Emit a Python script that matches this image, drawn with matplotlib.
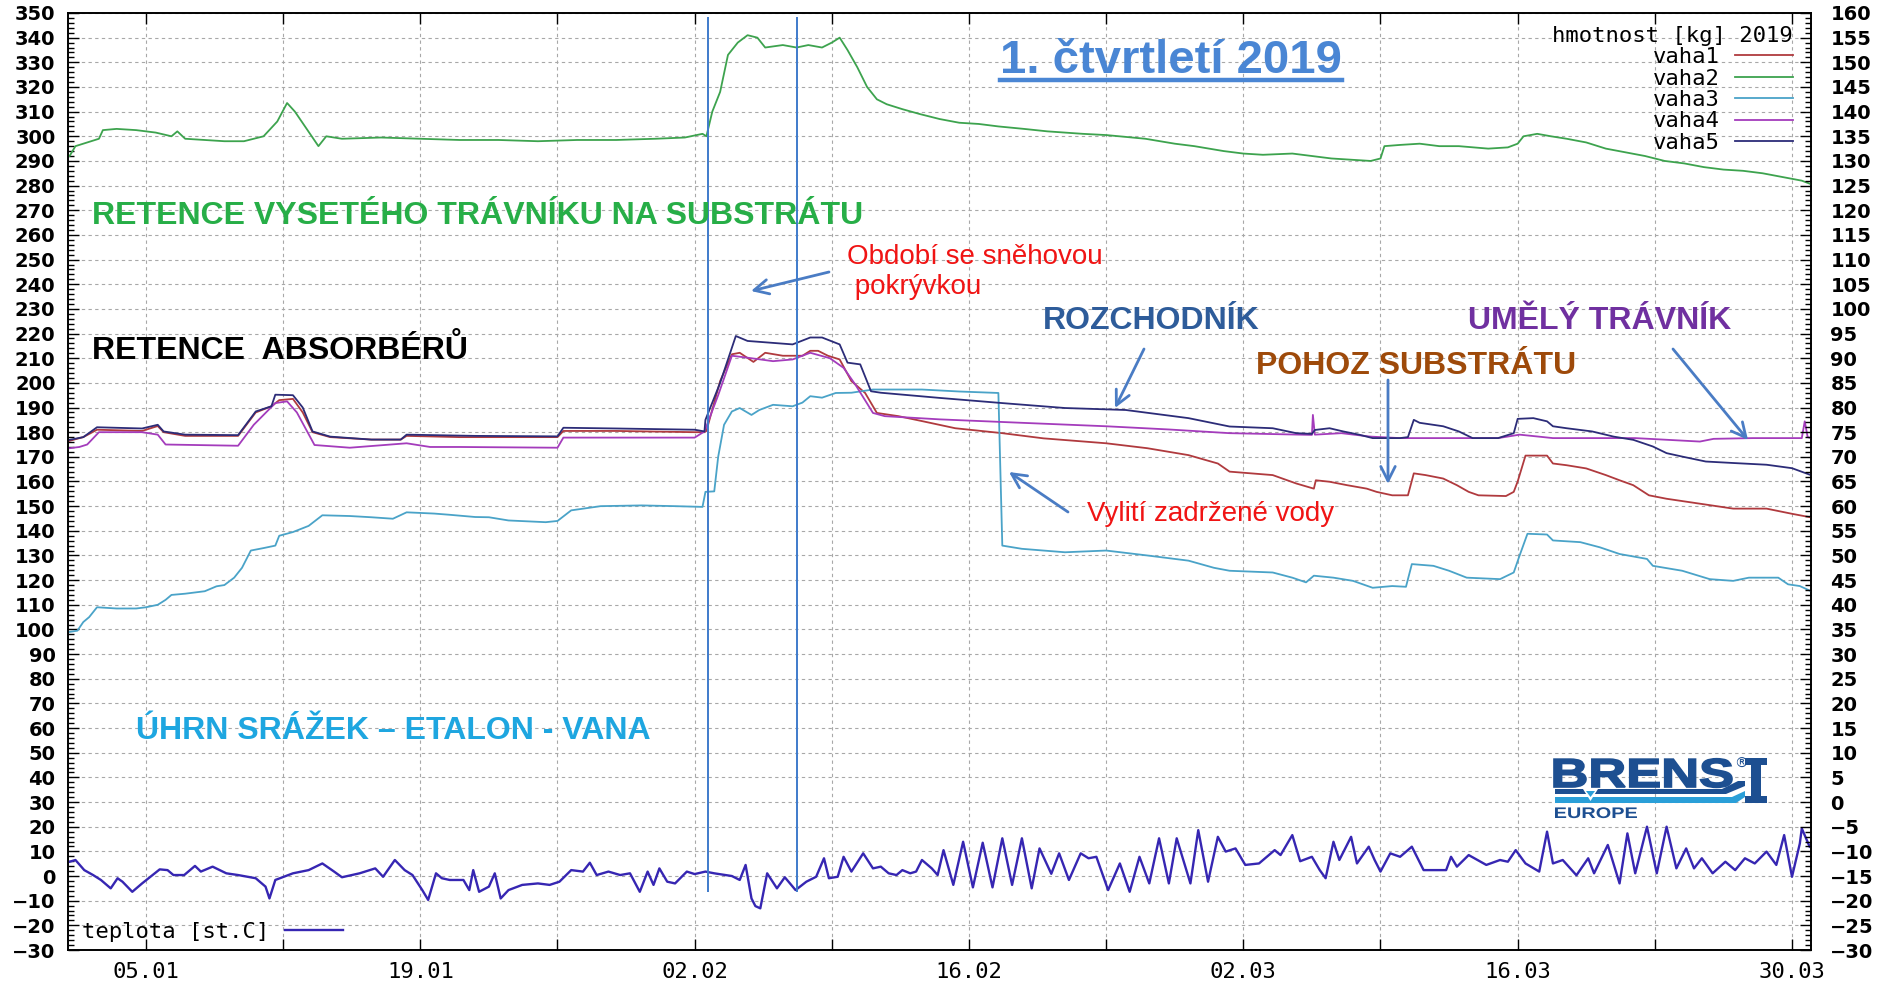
import matplotlib
matplotlib.use("Agg")
import matplotlib.pyplot as plt
from matplotlib.ticker import MultipleLocator
from matplotlib.patches import PathPatch, Polygon
from matplotlib.textpath import TextPath
from matplotlib.font_manager import FontProperties
from matplotlib.transforms import Affine2D
from matplotlib.lines import Line2D

W, H = 1884, 990

# x = days since 1.1.2019 00:00
date_ticks = [4, 18, 32, 46, 60, 74, 88]
date_labels = ["05.01", "19.01", "02.02", "16.02", "02.03", "16.03", "30.03"]
snow_days = [32.7, 37.22]          # období se sněhovou pokrývkou

# vaha1 - pohoz substrátu
v1_day = [0.1, 0.8, 1.5, 3.8, 4.6, 4.9, 6.0, 8.7, 9.6, 10.4, 10.8, 11.5, 12.0, 12.5, 13.4, 15.5,
          17.0, 17.3, 20.0, 25.0, 25.3, 28.0, 32.0, 32.5, 32.6, 33.3, 33.9, 34.3, 35.0, 35.6,
          36.5, 37.5, 37.9, 38.3, 38.8, 39.4, 40.0, 40.7, 41.3, 42.4, 43.6, 45.3, 47.7, 49.8,
          53.0, 55.1, 57.2, 58.7, 59.3, 61.5, 62.7, 63.6, 63.7, 64.4, 65.3, 66.3, 66.8, 67.6,
          68.4, 68.7, 69.3, 70.2, 70.9, 71.5, 72.0, 73.4, 73.8, 74.0, 74.4, 75.5, 75.8, 76.5,
          77.5, 78.5, 79.2, 79.9, 80.7, 81.6, 83.3, 85.0, 86.7, 88.0, 89.0]
v1_kg = [176.5, 178, 181, 180.5, 182.5, 180, 178.5, 178.5, 188, 190.5, 193, 193.5, 188, 180, 178, 177,
         177, 178.5, 178, 178, 180.5, 180.5, 180, 180, 180.5, 200.7, 211.6, 212.2, 208.5, 212.2,
         211, 211, 213, 213, 211, 209.5, 200.7, 195.9, 187.8, 186.5, 184.5, 181.6, 179.6, 177.5,
         175.5, 173.5, 170.7, 167.3, 164, 162.6, 159.2, 157.1, 160.5, 159.9, 158.5, 157.1, 155.8, 154.4,
         154.4, 163.3, 162.6, 161.2, 158.5, 155.8, 154.4, 154.1, 155.8, 160, 170.5, 170.5, 167.3, 166.6,
         165.3, 162.6, 160.5, 158.5, 154.4, 153, 151, 149, 149, 146.9, 145.4]

# vaha2 - vysetý trávník
v2_day = [0.1, 0.4, 0.8, 1.2, 1.6, 1.8, 2.5, 3.5, 4.5, 5.3, 5.6, 6.0, 7.0, 8.0, 9.0, 10.0, 10.7,
          11.2, 11.6, 12.2, 12.8, 13.2, 14.0, 16.0, 18.0, 20.0, 22.0, 24.0, 26.0, 28.0, 30.0,
          31.5, 32.4, 32.6, 32.9, 33.3, 33.7, 34.2, 34.7, 35.2, 35.6, 36.5, 37.2, 37.8, 38.5,
          39.0, 39.4, 39.8, 40.3, 40.8, 41.3, 41.8, 42.6, 43.5, 44.5, 45.5, 46.5, 47.5, 48.8,
          50.0, 51.8, 53.0, 55.0, 56.5, 57.5, 59.0, 60.0, 61.0, 62.5, 63.5, 64.5, 65.5, 66.5,
          67.0, 67.2, 68.0, 69.0, 70.0, 71.0, 72.5, 73.5, 74.0, 74.3, 75.0, 75.7, 76.5, 77.5,
          78.5, 79.5, 80.5, 81.5, 82.5, 83.5, 84.5, 85.5, 86.5, 87.5, 88.5, 89.0]
v2_kg = [292, 296, 297, 298, 299, 302.5, 303, 302.5, 301.5, 300, 302, 299, 298.5, 298, 298, 300, 306,
         313.5, 310, 303, 296, 300, 299, 299.5, 299, 298.5, 298.5, 298, 298.5, 298.5, 299,
         299.5, 301, 300, 310, 318, 333, 338, 341, 340, 336, 337, 336, 337, 336,
         338, 340, 335, 328, 320, 315, 313, 311, 309, 307, 305.5, 305, 304, 303,
         302, 301, 300.5, 299, 297, 296, 294, 293, 292.5, 293, 292, 291, 290.5, 290,
         291, 296, 296.5, 297, 296, 296, 295, 295.5, 297, 300, 301, 300, 299, 297.5,
         295, 293.5, 292, 290, 289, 287.5, 286.5, 286, 285, 283.5, 282, 280.5]

# vaha3 - úhrn srážek (etalon - vana)
v3_day = [0.1, 0.5, 0.8, 1.1, 1.5, 2.5, 3.5, 4.0, 4.6, 5.0, 5.3, 6.0, 7.0, 7.6, 8.0, 8.5, 8.9,
          9.35, 10.0, 10.6, 10.8, 11.5, 12.3, 13.0, 14.4, 15.5, 16.6, 17.3, 18.7, 19.5, 20.8,
          21.5, 22.5, 24.4, 25.0, 25.7, 27.2, 29.3, 31.0, 32.4, 32.55, 33.0, 33.2, 33.5, 33.9,
          34.3, 34.9, 35.3, 36.0, 37.0, 37.5, 37.9, 38.5, 39.2, 40.0, 41.1, 43.6, 45.5, 47.5,
          47.7, 48.7, 50.9, 53.0, 55.1, 57.2, 58.5, 59.3, 61.5, 62.5, 63.2, 63.6, 64.6, 65.6,
          66.6, 67.6, 68.3, 68.6, 69.7, 70.5, 71.4, 73.1, 73.8, 74.1, 74.5, 75.5, 75.8, 77.2,
          78.2, 79.2, 80.6, 80.9, 82.4, 83.8, 85.0, 85.8, 87.3, 87.8, 88.4, 89.0]
v3_kg = [99, 99.5, 103, 105, 109, 108.5, 108.5, 109, 110, 112, 114, 114.5, 115.5, 117.5, 118, 121, 125,
         132, 133, 134, 138, 139.5, 142, 146.3, 146, 145.5, 144.9, 147.5, 147, 146.5, 145.6,
         145.5, 144.2, 143.5, 144, 148.3, 150, 150.3, 150, 149.7, 155.8, 156, 170, 183, 188.4,
         189.8, 187, 189, 191.1, 190.5, 192, 194.6, 194, 195.9, 196, 197.3, 197.3, 196.5, 195.9,
         134, 132.7, 131.3, 132, 130, 127.9, 125, 123.8, 123.1, 121, 119.1, 121.8, 121, 119.7,
         116.9, 117.6, 117.3, 126.5, 125.8, 123.8, 121, 120.4, 123.1, 130, 138.8, 138.5, 136.1, 135.4,
         133.3, 130.6, 128.6, 125.8, 123.8, 120.4, 119.7, 121, 121, 118.3, 117.6, 115.4]

# vaha4 - umělý trávník
v4_day = [0.1, 0.6, 1.0, 1.6, 3.8, 4.6, 5.0, 8.7, 9.5, 10.6, 11.2, 11.7, 12.6, 14.4, 17.3, 18.5,
          20.0, 25.0, 25.3, 32.0, 32.5, 33.2, 33.9, 34.7, 36.0, 37.0, 37.9, 38.9, 39.6, 40.2,
          41.1, 41.7, 44.5, 48.7, 53.0, 56.2, 59.3, 63.5, 63.55, 63.65, 65.0, 66.5, 68.0, 73.0,
          74.1, 75.8, 80.0, 83.3, 84.0, 86.0, 88.5, 88.65, 88.8, 89.0]
v4_kg = [173.5, 174, 175, 180, 180, 179, 175, 174.5, 183, 191.8, 192.5, 188, 174.8, 173.7, 175.5, 174,
         174, 173.7, 177.8, 177.8, 180.3, 195, 211, 210.2, 208.8, 209.5, 212.2, 210, 206.1, 199.3,
         187.8, 186.5, 185.2, 183.8, 182.4, 181.1, 179.6, 178.9, 187, 179, 179.6, 178.2, 177.6, 177.6,
         179, 177.6, 177.6, 176.2, 177.3, 177.6, 177.6, 184.4, 178, 177.5]

# vaha5 - rozchodník
v5_day = [0.1, 0.8, 1.5, 3.8, 4.6, 4.9, 6.0, 8.7, 9.6, 10.4, 10.6, 11.5, 12.0, 12.5, 13.4, 15.5,
          17.0, 17.3, 20.8, 25.0, 25.3, 28.0, 32.0, 32.5, 32.55, 33.3, 34.1, 34.7, 37.0, 37.9,
          38.5, 39.4, 39.8, 40.45, 41.0, 41.5, 44.5, 47.7, 50.9, 54.0, 57.2, 59.3, 61.5, 62.7,
          63.5, 63.65, 64.4, 65.1, 65.9, 66.6, 68.0, 68.4, 68.7, 69.0, 70.2, 71.0, 71.7, 73.0,
          73.8, 74.0, 74.8, 75.5, 75.8, 76.5, 77.8, 78.9, 79.9, 80.9, 81.6, 82.4, 83.6, 85.0,
          86.7, 88.0, 89.0]
v5_kg = [176.9, 178, 182, 181.5, 183, 180.3, 179, 178.8, 188.4, 190.5, 195.2, 195, 190, 180.3, 178.2, 177,
         177, 179, 178.5, 178.3, 181.8, 181.5, 181, 180.3, 185, 200, 219, 217, 215.6, 218.4,
         218.4, 215.6, 208.2, 207.5, 196.6, 196, 193.9, 191.8, 189.8, 189, 185.7, 182.3, 181.6, 179.6,
         179.3, 180.9, 181.6, 180.3, 179, 177.6, 177.6, 178, 185, 183.8, 182.4, 180.3, 177.6, 177.6,
         179.6, 185.4, 185.7, 184.4, 182.4, 181.6, 180.3, 178.2, 176.9, 174.2, 171.5, 170.1, 168.1, 167.5,
         166.8, 165.4, 162.5]

# teplota [st.C]
t_day = [0.1, 0.4, 0.85, 1.3, 1.7, 2.2, 2.55, 2.8, 3.3, 3.8, 4.7, 5.1, 5.4, 5.95, 6.5, 6.8, 7.4,
         8.1, 8.7, 9.6, 10.1, 10.3, 10.6, 11.5, 12.3, 13.0, 13.6, 14.0, 14.9, 15.7, 16.1, 16.7,
         17.2, 17.6, 18.1, 18.4, 18.8, 19.1, 19.5, 20.2, 20.5, 20.7, 21.0, 21.5, 21.8, 22.1,
         22.5, 23.2, 24.0, 24.6, 25.1, 25.7, 26.3, 26.65, 27.0, 27.6, 28.2, 28.7, 29.2, 29.6,
         29.9, 30.2, 30.6, 31.0, 31.6, 32.0, 32.55, 33.0, 33.9, 34.3, 34.6, 34.9, 35.1, 35.35,
         35.7, 36.2, 36.6, 37.15, 37.7, 38.2, 38.6, 38.85, 39.3, 39.6, 40.0, 40.6, 41.1, 41.5,
         41.9, 42.3, 42.6, 43.0, 43.3, 43.6, 44.1, 44.4, 44.7, 45.2, 45.7, 46.2, 46.7, 47.2,
         47.7, 48.2, 48.7, 49.2, 49.6, 50.2, 50.6, 51.1, 51.7, 52.1, 52.5, 53.1, 53.7, 54.2,
         54.7, 55.2, 55.7, 56.2, 56.6, 57.3, 57.7, 58.2, 58.7, 59.1, 59.6, 60.1, 60.8, 61.6,
         61.9, 62.5, 62.9, 63.5, 63.9, 64.2, 64.6, 64.9, 65.5, 65.8, 66.4, 66.7, 67.0, 67.5,
         68.0, 68.6, 69.2, 70.35, 70.6, 70.9, 71.5, 72.4, 73.1, 73.5, 73.9, 74.4, 75.1, 75.5,
         75.8, 76.3, 77.0, 77.6, 77.9, 78.6, 79.2, 79.6, 80.0, 80.6, 81.1, 81.6, 82.1, 82.6,
         83.0, 83.4, 83.95, 84.6, 85.1, 85.6, 86.1, 86.7, 87.2, 87.6, 88.0, 88.4, 88.5, 88.9]
t_c = [5.8, 6.5, 2.4, 0.4, -1.6, -5, -0.9, -2.3, -6.4, -3, 2.7, 2.4, 0.4, 0.4, 4.1, 1.8, 3.8,
       1.1, 0.4, -0.9, -4.3, -9.1, -1.6, 1.1, 2.4, 5.1, 1.8, -0.5, 1.1, 3.1, -0.3, 6.5,
       2.4, 0.4, -5.7, -9.7, 1.1, -0.9, -1.6, -1.6, -5.7, 2.4, -6.4, -4.3, 1.1, -9.1,
       -5.7, -3.6, -3, -3.6, -2.3, 2.4, 1.8, 5.4, 0.4, 1.8, 0.4, 1.1, -6.4, 1.8,
       -3.6, 3.1, -2.3, -3, 1.8, 0.8, 1.8, 1.1, 0, -1.6, 4.5, -9.1, -12.2, -13.1,
       1.1, -5, -0.5, -5.7, -2.3, -0.3, 7.2, -0.9, -0.3, 7.8, 1.8, 9.2, 3.1, 3.8,
       1.1, 0.4, 2.4, 1.1, 1.8, 6.5, 3.1, 0.4, 10.5, -3.6, 13.9, -4.6, 13.5, -4.6,
       15.3, -3.6, 15.3, -5, 11.2, 0.9, 9.2, -1.6, 9.2, 7.2, 7.8, -5.7, 5.1, -6.4,
       7.8, -3, 15.3, -3, 15.3, -3, 18.6, -2.3, 15.9, 9.9, 11.2, 4.5, 5.1, 10.5,
       8.5, 16.6, 6, 7.8, 2.4, -0.9, 13.9, 6.5, 15.9, 5.1, 11.9, 6.5, 1.8, 9.2,
       7.8, 11.9, 2.4, 2.4, 7.8, 3.8, 8.5, 4.5, 6.5, 5.8, 10.5, 5.1, 1.8, 18,
       5.1, 6.5, 0.3, 7.2, 1.1, 12.6, -3, 17.3, 1.1, 20, 1.1, 20, 3.1, 11.2,
       3.1, 7.2, 1.1, 5.8, 2.4, 7.2, 5.1, 9.9, 4.5, 16.6, -0.3, 13.2, 19.3, 11.9]

series = [("vaha1", v1_day, v1_kg, "#b03a3e"),
          ("vaha2", v2_day, v2_kg, "#3da34e"),
          ("vaha3", v3_day, v3_kg, "#4aa3c8"),
          ("vaha4", v4_day, v4_kg, "#a43cbc"),
          ("vaha5", v5_day, v5_kg, "#2c2c78")]

mono = FontProperties(family="DejaVu Sans Mono", size=16)
arial_b = "Liberation Sans"

fig = plt.figure(figsize=(W / 100, H / 100), dpi=100)
ax = fig.add_axes([68 / W, 1 - 950 / H, 1743 / W, 937 / H])


def fp(x, y):
    # pixel (from top-left) -> figure fraction
    return x / W, 1 - y / H


handles = []
for name, d, v, c in series:
    ln, = ax.plot(d, v, color=c, lw=1.3, label=name, zorder=3)
    handles.append(ln)
lt, = ax.plot(t_day, t_c, color="#3626b2", lw=1.7, label="teplota [st.C]", zorder=3)
ax.vlines(snow_days, -6.5, 348.5, color="#3f7bcb", lw=1.4, zorder=4)

ax.set_xlim(0.02, 88.97)
ax.set_ylim(-30, 350)
week_days = list(range(4, 89, 7))
ax.set_xticks(week_days)
ax.set_xticklabels([date_labels[date_ticks.index(d)] if d in date_ticks else "" for d in week_days])
for lab in ax.get_xticklabels():
    lab.set_fontproperties(mono)
ax.yaxis.set_major_locator(MultipleLocator(10))
ax.yaxis.set_minor_locator(MultipleLocator(2))
ax.tick_params(axis="x", direction="in", length=8, width=1, top=True, pad=9)
ax.tick_params(axis="y", which="major", direction="in", length=8, width=1, right=False,
               labelsize=14, pad=9)
ax.tick_params(axis="y", which="minor", direction="in", length=4, width=1, right=False)
for lab in ax.get_yticklabels():
    lab.set_fontweight("bold")
ax.grid(True, which="major", color="#a8a8a8", linestyle=(0, (3, 3)), linewidth=0.8)
ax.set_axisbelow(True)

ax2 = ax.twinx()
ax2.set_ylim(-30, 160)
ax2.yaxis.set_major_locator(MultipleLocator(5))
ax2.yaxis.set_minor_locator(MultipleLocator(1))
ax2.tick_params(axis="y", which="major", direction="in", length=8, width=1, labelsize=14, pad=14)
ax2.tick_params(axis="y", which="minor", direction="in", length=4, width=1)
for lab in ax2.get_yticklabels():
    lab.set_fontweight("bold")
for a in (ax, ax2):
    for s in a.spines.values():
        s.set_linewidth(1.2)

leg = ax.legend(handles=handles, loc="upper right", bbox_to_anchor=(0.9895, 0.9865),
                frameon=False, markerfirst=False, title="hmotnost [kg] 2019", alignment="right",
                prop=mono, title_fontproperties=mono, labelspacing=0.065, handlelength=2.6,
                handletextpad=0.7, borderpad=0, borderaxespad=0)
ax.add_artist(leg)
ax.legend(handles=[lt], loc="lower left", bbox_to_anchor=(0.008, 0.009), frameon=False,
          markerfirst=False, prop=mono, handlelength=2.6, handletextpad=0.7,
          borderpad=0, borderaxespad=0)

# labels inside the chart
title = fig.text(*fp(1171, 73), "1. čtvrtletí 2019", color="#4a86d4", fontsize=34,
                 fontweight="bold", family=arial_b, ha="center", va="baseline")
big = [("RETENCE VYSETÉHO TRÁVNÍKU NA SUBSTRÁTU", 92, 224, "#27ae47"),
       ("RETENCE  ABSORBÉRŮ", 92, 359, "black"),
       ("ÚHRN SRÁŽEK – ETALON - VANA", 136, 739, "#1ea6e0"),
       ("ROZCHODNÍK", 1043, 329, "#2e5c9a"),
       ("POHOZ SUBSTRÁTU", 1256, 374, "#9e4a0a"),
       ("UMĚLÝ TRÁVNÍK", 1468, 329, "#7030a0")]
for s, x, y, c in big:
    fig.text(*fp(x, y), s, color=c, fontsize=23, fontweight="bold", family=arial_b,
             ha="left", va="baseline")
fig.text(*fp(847, 272), "Období se sněhovou\n pokrývkou", color="#f01414", fontsize=20,
         family=arial_b, ha="left", va="center", linespacing=1.15)
fig.text(*fp(1087, 514), "Vylití zadržené vody", color="#f01414", fontsize=20,
         family=arial_b, ha="left", va="center")

arrows = [((829, 272), (751, 291)), ((1144, 349), (1115, 408)), ((1388, 380), (1388, 484)),
          ((1673, 349), (1748, 440)), ((1068, 512), (1009, 472))]
for (tx, ty), (hx, hy) in arrows:
    ax.annotate("", xy=(hx, H - hy), xytext=(tx, H - ty), xycoords="figure pixels",
                textcoords="figure pixels",
                arrowprops=dict(arrowstyle="->", color="#4a7cc4", lw=2.0, mutation_scale=26,
                                shrinkA=0, shrinkB=0))

# BRENS logo
navy, sky = "#1d4f91", "#2a9fd8"


def text_patch(s, x, y_base, width, cap, lw=0.0):
    tp = TextPath((0, 0), s, size=1, prop=FontProperties(family=arial_b, weight="bold"))
    ext = tp.get_extents()
    tr = (Affine2D().translate(-ext.x0, 0).scale(width / ext.width, cap / 0.716)
          .translate(x, H - y_base).scale(1 / W, 1 / H) + fig.transFigure)
    fig.add_artist(PathPatch(tp, transform=tr, facecolor=navy, edgecolor=navy, lw=lw))


text_patch("BRENS", 1554, 787, 178, 29, lw=1.2)
text_patch("EUROPE", 1555, 818, 82, 11)
fig.text(*fp(1734, 764), "®", color=navy, fontsize=10, ha="left", va="center")
shapes = [([(1555, 789), (1722, 789), (1738, 781), (1745, 781), (1745, 786), (1726, 794),
            (1555, 794)], navy),
          ([(1555, 797), (1732, 797), (1745, 791), (1745, 797), (1736, 803), (1555, 803)], sky),
          ([(1583, 789), (1598, 789), (1590.5, 801)], "white"),
          ([(1586, 791), (1595, 791), (1590.5, 797)], sky),
          ([(1745, 758), (1767, 758), (1767, 765), (1761, 765), (1761, 796), (1767, 796),
            (1767, 803), (1745, 803), (1745, 796), (1751, 796), (1751, 765), (1745, 765)], navy)]
for pts, c in shapes:
    fig.add_artist(Polygon([fp(x, y) for x, y in pts], closed=True, transform=fig.transFigure,
                           facecolor=c, edgecolor="none"))

# underline of the title
fig.canvas.draw()
bb = title.get_window_extent().transformed(fig.transFigure.inverted())
fig.add_artist(Line2D([bb.x0, bb.x1], [1 - 80 / H] * 2, transform=fig.transFigure,
                      color="#4a86d4", lw=3.2))

fig.savefig("out.png", dpi=100)
